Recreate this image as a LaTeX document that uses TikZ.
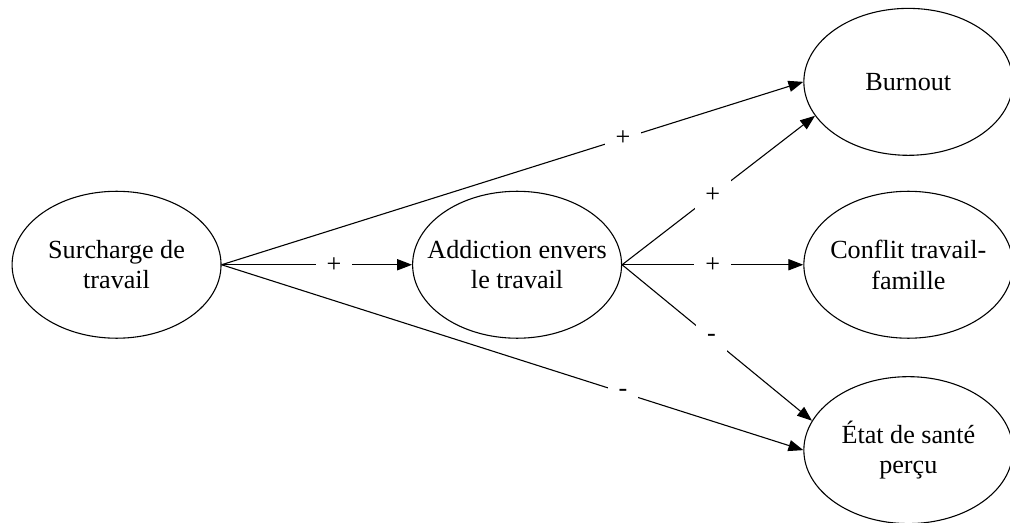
\documentclass[tikz,border=0pt]{standalone}
\usepackage{fontspec}
\setmainfont{Liberation Serif}
\usetikzlibrary{
    arrows.meta,     % Filled triangle tips on the links.
    shapes.geometric % Ellipses for the variables.
}

\begin{document}
\begin{tikzpicture}[%
        line width = 0.5pt,
        font = \fontsize{12}{14}\selectfont,
        var/.style = {draw, ellipse, align = center,
            minimum width = 3.37cm, minimum height = 2.37cm,
            inner xsep = -8pt, inner ysep = 0pt},
        link/.style = {-{Triangle[length = 2.4mm, width = 1.8mm]}},
        sign/.style = {fill = white, inner sep = 5pt}
    ]

        % Fix the size of the page.
        \useasboundingbox (0, 0) rectangle (16.29, 8.42);

        % The five variables of the model.
        \node[var] (surcharge) at (1.88, 4.15) {Surcharge de\\travail};
        \node[var] (addiction) at (8.34, 4.15) {Addiction envers\\le travail};
        \node[var] (burnout) at (14.65, 7.10) {Burnout};
        \node[var] (conflit) at (14.65, 4.15) {Conflit travail-\\famille};
        \node[var] (etat) at (14.65, 1.16) {État de santé\\perçu};

        % Links from the workload.
        \draw[link] (surcharge.east) -- node[sign, pos = 0.59] (s1) {+} (addiction.west);
        \draw[link] (surcharge.east) -- node[sign, pos = 0.69] (s2) {+} (burnout.west);
        \draw[link] (surcharge.east) -- node[sign, pos = 0.69] (s3) {-} (etat.west);

        % Links from the addiction to work.
        \draw[link] (addiction.east) -- node[sign, pos = 0.47] (s4) {+} (burnout.200);
        \draw[link] (addiction.east) -- node[sign, pos = 0.50] (s5) {+} (conflit.west);
        \draw[link] (addiction.east) -- node[sign, pos = 0.47] (s6) {-} (etat.163);
    \end{tikzpicture}
\end{document}
